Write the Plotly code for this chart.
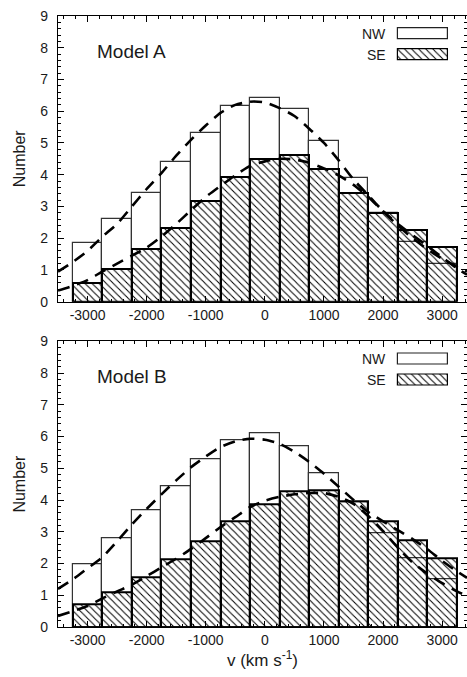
import plotly.graph_objects as go

# ---------------- data ----------------
v_centers = [-3000, -2500, -2000, -1500, -1000, -500, 0, 500, 1000, 1500, 2000, 2500, 3000]

nw_a = [1.84, 2.60, 3.44, 4.39, 5.32, 6.16, 6.41, 6.06, 5.07, 3.91, 2.81, 1.89, 1.19]
se_a = [0.60, 1.02, 1.65, 2.33, 3.16, 3.94, 4.50, 4.61, 4.17, 3.43, 2.80, 2.27, 1.71]

nw_b = [1.97, 2.78, 3.67, 4.42, 5.28, 5.88, 6.11, 5.70, 4.84, 3.93, 2.94, 2.15, 1.50]
se_b = [0.71, 1.10, 1.57, 2.12, 2.70, 3.33, 3.88, 4.27, 4.30, 3.95, 3.33, 2.73, 2.18]

curve_x = [-3500, -3250, -3000, -2750, -2500, -2250, -2000, -1750, -1500, -1250,
           -1000, -750, -500, -250, 0, 250, 500, 750, 1000, 1250, 1500, 1750,
           2000, 2250, 2500, 2750, 3000, 3250, 3420]

nw_fit_a = [0.95, 1.25, 1.60, 2.05, 2.45, 3.00, 3.55, 4.05, 4.60, 5.10, 5.55, 5.95, 6.20,
            6.30, 6.28, 6.10, 5.85, 5.45, 5.00, 4.45, 3.85, 3.35, 2.85, 2.40, 2.00, 1.65,
            1.35, 1.10, 0.95]
se_fit_a = [0.35, 0.50, 0.68, 0.95, 1.20, 1.45, 1.70, 2.05, 2.45, 2.88, 3.30, 3.65, 3.98,
            4.28, 4.42, 4.50, 4.48, 4.38, 4.20, 3.98, 3.68, 3.30, 2.85, 2.45, 2.10, 1.75,
            1.40, 1.05, 0.85]

nw_fit_b = [1.20, 1.50, 1.85, 2.20, 2.70, 3.23, 3.72, 4.18, 4.62, 5.03, 5.37, 5.67, 5.85,
            5.93, 5.90, 5.77, 5.52, 5.20, 4.83, 4.42, 4.00, 3.62, 3.33, 3.05, 2.77, 2.45,
            2.08, 1.75, 1.55]
se_fit_b = [0.35, 0.50, 0.66, 0.90, 1.12, 1.33, 1.60, 1.88, 2.15, 2.46, 2.80, 3.15, 3.46,
            3.78, 3.98, 4.10, 4.18, 4.22, 4.22, 4.10, 3.88, 3.50, 3.02, 2.50, 2.03, 1.68,
            1.38, 1.12, 0.98]

x_tickvals = [-3000, -2000, -1000, 0, 1000, 2000, 3000]
x_ticktext = ["-3000", "-2000", "-1000", "0", "1000", "2000", "3000"]
y_tickvals = [0, 1, 2, 3, 4, 5, 6, 7, 8, 9]
panel_labels = ["Model A", "Model B"]
legend_names = ["NW", "SE"]

# ---------------- layout constants ----------------
W, H = 467, 677
ML, MR, MT, MB = 58, 0, 16, 50
plot_h = H - MT - MB
panel_h = 285.7
dom_a = [1 - panel_h / plot_h, 1.0]
dom_b = [0.0, panel_h / plot_h]

FONT = "Liberation Sans, Arial, Helvetica, sans-serif"
TXT = "#1a1a1a"
HATCH = dict(shape="\\", size=5, solidity=0.2, fgcolor="black",
             bgcolor="rgba(0,0,0,0)", fillmode="replace")

fig = go.Figure()

panels = [(nw_a, se_a, nw_fit_a, se_fit_a, "x", "y"),
          (nw_b, se_b, nw_fit_b, se_fit_b, "x2", "y2")]

for nw, se, fnw, fse, xa, ya in panels:
    fig.add_trace(go.Bar(x=v_centers, y=nw, width=500, xaxis=xa, yaxis=ya,
                         marker=dict(color="white", line=dict(color="#333333", width=1.2)),
                         showlegend=False))
    fig.add_trace(go.Bar(x=v_centers, y=se, width=500, xaxis=xa, yaxis=ya,
                         marker=dict(color="black", pattern=HATCH,
                                     line=dict(color="black", width=2)),
                         showlegend=False))
    for fy in (fnw, fse):
        fig.add_trace(go.Scatter(x=curve_x, y=fy, mode="lines", xaxis=xa, yaxis=ya,
                                 line=dict(color="black", width=2.6, dash="12px,8px",
                                           shape="spline", smoothing=0.6),
                                 showlegend=False))

# custom legend boxes (one small axes pair per panel)
def px_to_paper_y(py):
    return (H - MB - py) / plot_h

def px_to_paper_x(px):
    return (px - ML) / (W - ML - MR)

PAD = 3  # px of padding so that box outlines are not clipped
leg_x = [px_to_paper_x(398 - PAD), px_to_paper_x(448 + PAD)]
leg_xr = [-PAD / 50, 1 + PAD / 50]
unit_px = 32 / 1.524
for i, top in enumerate([MT, MT + plot_h - panel_h]):
    xa, ya = f"x{i+3}", f"y{i+3}"
    dom_y = [px_to_paper_y(top + 44.3 + PAD), px_to_paper_y(top + 12.3 - PAD)]
    yr = [-0.262 - PAD / unit_px, 1.262 + PAD / unit_px]
    fig.add_trace(go.Bar(x=[1], y=[1], orientation="h", width=0.524, xaxis=xa, yaxis=ya,
                         marker=dict(color="white", line=dict(color="#222222", width=1.2)),
                         showlegend=False, hoverinfo="skip"))
    fig.add_trace(go.Bar(x=[1], y=[0], orientation="h", width=0.524, xaxis=xa, yaxis=ya,
                         marker=dict(color="black", pattern=HATCH,
                                     line=dict(color="black", width=1.2)),
                         showlegend=False, hoverinfo="skip"))
    fig.update_layout(**{
        f"xaxis{i+3}": dict(domain=leg_x, range=leg_xr, visible=False, fixedrange=True),
        f"yaxis{i+3}": dict(domain=dom_y, range=yr, visible=False, fixedrange=True),
    })
    for name, row in zip(legend_names, [1, 0]):
        cy = px_to_paper_y(top + (17.8 if row == 1 else 39.0))
        fig.add_annotation(x=px_to_paper_x(388), y=cy, xref="paper", yref="paper",
                           text=name, showarrow=False, xanchor="right", yanchor="middle",
                           font=dict(family=FONT, size=14, color=TXT))
    # panel label
    fig.add_annotation(x=px_to_paper_x(95), y=px_to_paper_y(top + 35.5), xref="paper",
                       yref="paper", text=panel_labels[i], showarrow=False,
                       xanchor="left", yanchor="middle",
                       font=dict(family=FONT, size=19, color=TXT))

xcommon = dict(range=[-3500, 3420], tickmode="array", tickvals=x_tickvals,
               ticktext=x_ticktext, ticks="inside", ticklen=6, tickwidth=1.2,
               tickcolor="black", showline=True, linecolor="black", linewidth=1.3,
               mirror="allticks", showgrid=False, zeroline=False,
               minor=dict(dtick=200, tick0=0, ticks="inside", ticklen=3,
                          tickcolor="black", tickwidth=1, showgrid=False),
               tickfont=dict(family=FONT, size=14, color=TXT))
ycommon = dict(range=[0, 9], tickmode="array", tickvals=y_tickvals, ticks="inside",
               ticklen=6, tickwidth=1.2, tickcolor="black", showline=True,
               linecolor="black", linewidth=1.3, mirror="allticks", showgrid=False,
               zeroline=False, ticklabelstandoff=6,
               minor=dict(dtick=0.2, tick0=0, ticks="inside", ticklen=3,
                          tickcolor="black", tickwidth=1, showgrid=False),
               tickfont=dict(family=FONT, size=14, color=TXT),
               title=dict(text="Number", font=dict(family=FONT, size=16, color=TXT),
                          standoff=10))

fig.update_layout(
    width=W, height=H,
    margin=dict(l=ML, r=MR, t=MT, b=MB),
    paper_bgcolor="white", plot_bgcolor="white",
    barmode="overlay", bargap=0,
    showlegend=False,
    xaxis=dict(**xcommon, anchor="y", domain=[0, 1]),
    yaxis=dict(**ycommon, anchor="x", domain=dom_a),
    xaxis2=dict(**xcommon, anchor="y2", domain=[0, 1],
                title=dict(text="v (km s<sup>-1</sup>)",
                           font=dict(family=FONT, size=17, color=TXT), standoff=4)),
    yaxis2=dict(**ycommon, anchor="x2", domain=dom_b),
)

fig.write_html("out.html", config={"displayModeBar": False},
               post_script="document.body.style.margin='0px';"
                           "document.body.style.overflow='hidden';")
